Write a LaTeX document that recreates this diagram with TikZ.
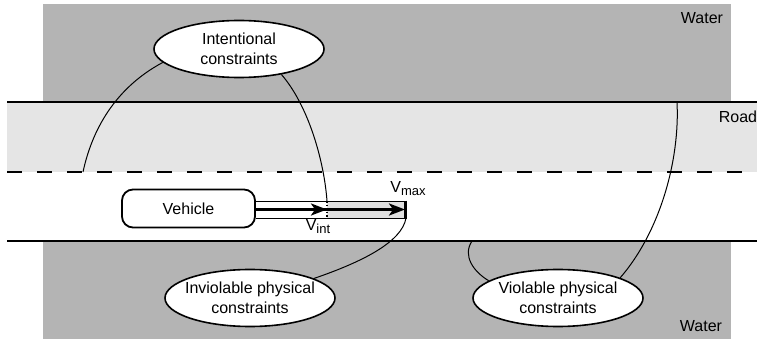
\documentclass[tikz,border=0pt]{standalone}
\usepackage{fontspec}
\setmainfont{Liberation Sans}
\usetikzlibrary{shapes.geometric,arrows.meta}

\definecolor{waterGray}{RGB}{180,180,180}
\definecolor{roadGray}{RGB}{229,229,229}
\definecolor{spanGray}{RGB}{224,224,224}

\newcommand{\subtxt}[1]{\raisebox{-3pt}{\fontsize{13}{13}\selectfont #1}}

\begin{document}
\begin{tikzpicture}[x=1pt,y=-1pt,
  every node/.style={font=\fontsize{16}{20}\selectfont, inner sep=0pt},
  water/.style={fill=waterGray, draw=none},
  roadband/.style={fill=roadGray, draw=none},
  edgeline/.style={line width=2pt},
  laneline/.style={line width=2pt, dash pattern=on 15pt off 15pt},
  bubble/.style={ellipse, draw, line width=1.6pt, fill=white,
                 minimum width=170pt, minimum height=57pt},
  vehiclebox/.style={draw, line width=1.8pt, rounded corners=11pt, fill=white,
                     minimum width=133pt, minimum height=38pt},
  link/.style={line width=1pt},
  speed/.style={line width=2.6pt, -{Stealth[length=16pt, width=12pt, inset=4pt]}},
]
\useasboundingbox (0,0) rectangle (757,339);

% water and road surfaces
\fill[water] (43,4) rectangle (731,102);
\fill[water] (43,241) rectangle (731,339);
\fill[roadband] (7,102) rectangle (757,172);

% road markings
\draw[edgeline] (7,102) -- (757,102);
\draw[laneline] (7,172) -- (757,172);
\draw[edgeline] (7,241) -- (757,241);

% surface labels
\node (water1) at (702,18) {Water};
\node (water2) at (701,326) {Water};
\node (road) at (738,117) {Road};

% vehicle and its speed span
\node[vehiclebox] (veh) at (188.5,208.5) {Vehicle};
\fill[white] (256,201) rectangle (327,218);
\fill[spanGray] (327,201) rectangle (405,218);
\draw[line width=0.9pt] (256,201) -- (405,201);
\draw[line width=0.9pt] (256,218) -- (405,218);
\coordinate (vint) at (327,209.5);
\coordinate (vmax) at (405,209.5);
\coordinate (vinttop) at (327,201);
\coordinate (vmaxbot) at (406,218);
\draw[line width=1.5pt, dotted] (327,201) -- (327,218);
\draw[line width=3pt] (405.5,200.5) -- (405.5,218.5);
\draw[speed] (veh.east |- vint) -- (vmax);
\draw[speed] (veh.east |- vint) -- (vint);
\node (lmax) at (408,189) {V\subtxt{max}};
\node (lint) at (318,227) {V\subtxt{int}};

% constraint bubbles
\node[bubble, label={[align=center]center:Intentional\\constraints}] (intent) at (239,49) {};
\node[bubble, label={[align=center]center:Inviolable physical\\constraints}] (inviol) at (250,298) {};
\node[bubble, label={[align=center]center:Violable physical\\constraints}] (viol) at (558,298) {};

% attachment points
\coordinate (lanept) at (83,172);
\coordinate (edgebot) at (472,241);
\coordinate (edgetop) at (677,102);

% links from bubbles to what they constrain
\draw[link] (intent.190) .. controls (115,88) and (92,130) .. (lanept);
\draw[link] (intent.329) .. controls (308,105) and (324,160) .. (vinttop);
\draw[link] (inviol.17) .. controls (362,262) and (402,242) .. (vmaxbot);
\draw[link] (viol.166) .. controls (474,272) and (462,256) .. (edgebot);
\draw[link] (viol.18) .. controls (660,232) and (680,160) .. (edgetop);
\end{tikzpicture}
\end{document}
